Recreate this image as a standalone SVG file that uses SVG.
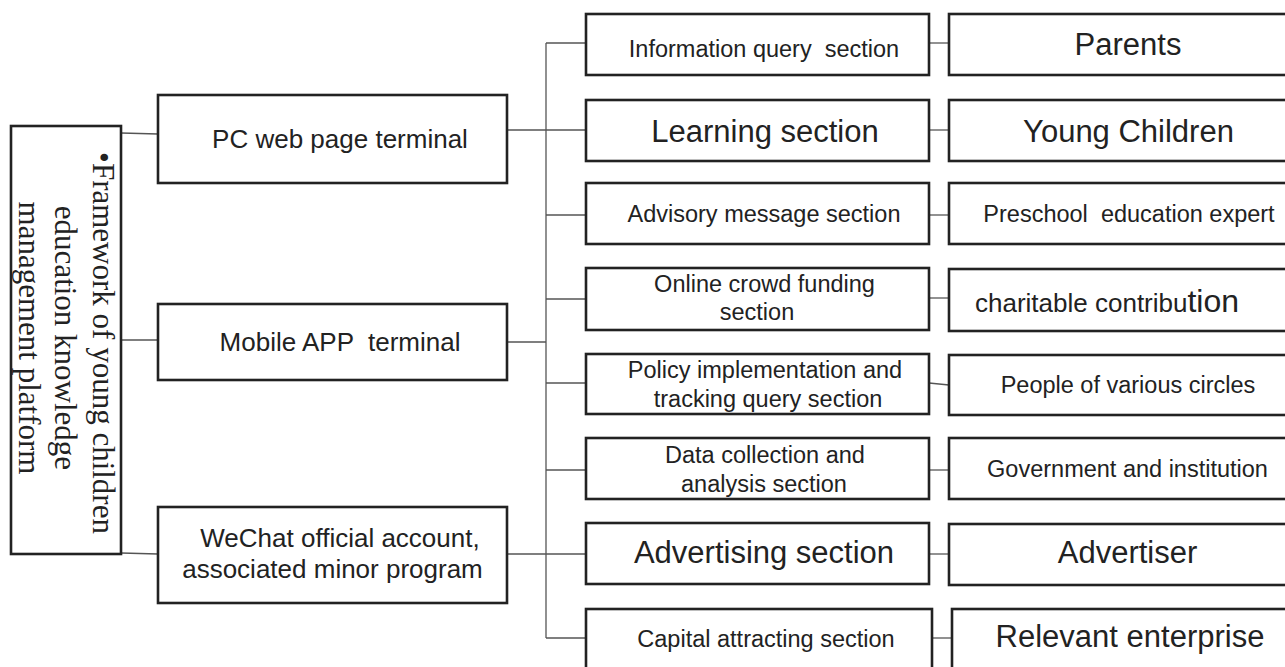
<svg xmlns="http://www.w3.org/2000/svg" width="1285" height="667" viewBox="0 0 1285 667">
<style>
.box{fill:#fff;stroke:#222;stroke-width:2.6}
.ln{fill:none;stroke:#555;stroke-width:1.3}
.t{font-family:"Liberation Sans",Arial,sans-serif;fill:#222;text-anchor:middle}
.s{font-family:"Liberation Serif","Times New Roman",serif;fill:#222;text-anchor:middle;font-size:31px}
.f26{font-size:26px}
.f23{font-size:23.5px}
.f31{font-size:31px}
</style>
<rect width="1285" height="667" fill="#fff"/>
<g id="connectors">
<line class="ln" x1="121" y1="133" x2="158" y2="134"/>
<line class="ln" x1="121" y1="340" x2="158" y2="340"/>
<line class="ln" x1="121" y1="553" x2="158" y2="554"/>
<line class="ln" x1="507" y1="130" x2="586" y2="130"/>
<line class="ln" x1="507" y1="342" x2="546" y2="342"/>
<line class="ln" x1="507" y1="554" x2="586" y2="554"/>
<line class="ln" x1="546" y1="43" x2="546" y2="638"/>
<line class="ln" x1="546" y1="43" x2="586" y2="43"/>
<line class="ln" x1="546" y1="215" x2="586" y2="215"/>
<line class="ln" x1="546" y1="299" x2="586" y2="299"/>
<line class="ln" x1="546" y1="383" x2="586" y2="383"/>
<line class="ln" x1="546" y1="470" x2="586" y2="470"/>
<line class="ln" x1="546" y1="638" x2="586" y2="638"/>
<line class="ln" x1="929" y1="43" x2="949" y2="43"/>
<line class="ln" x1="929" y1="130" x2="949" y2="130"/>
<line class="ln" x1="929" y1="215" x2="949" y2="215"/>
<line class="ln" x1="929" y1="298" x2="949" y2="298"/>
<line class="ln" x1="929" y1="383" x2="949" y2="385"/>
<line class="ln" x1="929" y1="470" x2="949" y2="470"/>
<line class="ln" x1="929" y1="554" x2="949" y2="554"/>
<line class="ln" x1="932" y1="638" x2="952" y2="638"/>
</g>
<g id="platform">
<rect class="box" x="11" y="126" width="110" height="428"/>
<g transform="translate(92.5,343) rotate(90)">
<text class="s" x="0" y="0">•Framework of young children</text>
<text class="s" x="-5" y="37.5">education knowledge</text>
<text class="s" x="-5" y="74">management platform</text>
</g>
</g>
<g id="pc">
<rect class="box" x="158" y="95" width="349" height="88"/>
<text class="t f26" x="340" y="148">PC web page terminal</text>
</g>
<g id="mobile">
<rect class="box" x="158" y="304" width="349" height="76"/>
<text class="t f26" x="340" y="351" xml:space="preserve">Mobile APP  terminal</text>
</g>
<g id="wechat">
<rect class="box" x="158" y="507" width="349" height="96"/>
<text class="t f26" x="340" y="547">WeChat official account,</text>
<text class="t f26" x="332.5" y="578">associated minor program</text>
</g>
<g id="info">
<rect class="box" x="586" y="14" width="343" height="61"/>
<text class="t f23" x="764" y="57" xml:space="preserve">Information query  section</text>
</g>
<g id="learning">
<rect class="box" x="586" y="100" width="343" height="61"/>
<text class="t f31" x="765" y="142">Learning section</text>
</g>
<g id="advisory">
<rect class="box" x="586" y="183" width="343" height="61"/>
<text class="t f23" x="764" y="222">Advisory message section</text>
</g>
<g id="crowdfunding">
<rect class="box" x="586" y="268" width="343" height="62"/>
<text class="t f23" x="764.5" y="292">Online crowd funding</text>
<text class="t f23" x="757" y="320">section</text>
</g>
<g id="policy">
<rect class="box" x="586" y="354" width="343" height="60"/>
<text class="t f23" x="765" y="378">Policy implementation and</text>
<text class="t f23" x="768" y="407">tracking query section</text>
</g>
<g id="data">
<rect class="box" x="586" y="438" width="343" height="61"/>
<text class="t f23" x="765" y="463">Data collection and</text>
<text class="t f23" x="764" y="492">analysis section</text>
</g>
<g id="advertising">
<rect class="box" x="586" y="523" width="343" height="61"/>
<text class="t f31" x="764" y="563">Advertising section</text>
</g>
<g id="capital">
<rect class="box" x="586" y="609" width="346" height="70"/>
<text class="t f23" x="766" y="647">Capital attracting section</text>
</g>
<g id="parents">
<rect class="box" x="949" y="14" width="350" height="61"/>
<text class="t f31" x="1128" y="55">Parents</text>
</g>
<g id="children">
<rect class="box" x="949" y="100" width="350" height="61"/>
<text class="t f31" x="1128.5" y="142">Young Children</text>
</g>
<g id="expert">
<rect class="box" x="949" y="183" width="350" height="61"/>
<text class="t f23" x="1129" y="222" xml:space="preserve">Preschool  education expert</text>
</g>
<g id="charity">
<rect class="box" x="949" y="269" width="350" height="62"/>
<text class="t" x="975" y="312" style="text-anchor:start;font-size:26px">charitable contribu<tspan style="font-size:32px">tion</tspan></text>
</g>
<g id="people">
<rect class="box" x="949" y="355" width="350" height="60"/>
<text class="t f23" x="1128" y="393">People of various circles</text>
</g>
<g id="government">
<rect class="box" x="949" y="438" width="350" height="61"/>
<text class="t f23" x="1127.5" y="477">Government and institution</text>
</g>
<g id="advertiser">
<rect class="box" x="949" y="524" width="350" height="61"/>
<text class="t f31" x="1127.5" y="563">Advertiser</text>
</g>
<g id="enterprise">
<rect class="box" x="952" y="609" width="350" height="70"/>
<text class="t f31" x="1130" y="647">Relevant enterprise</text>
</g>
</svg>
